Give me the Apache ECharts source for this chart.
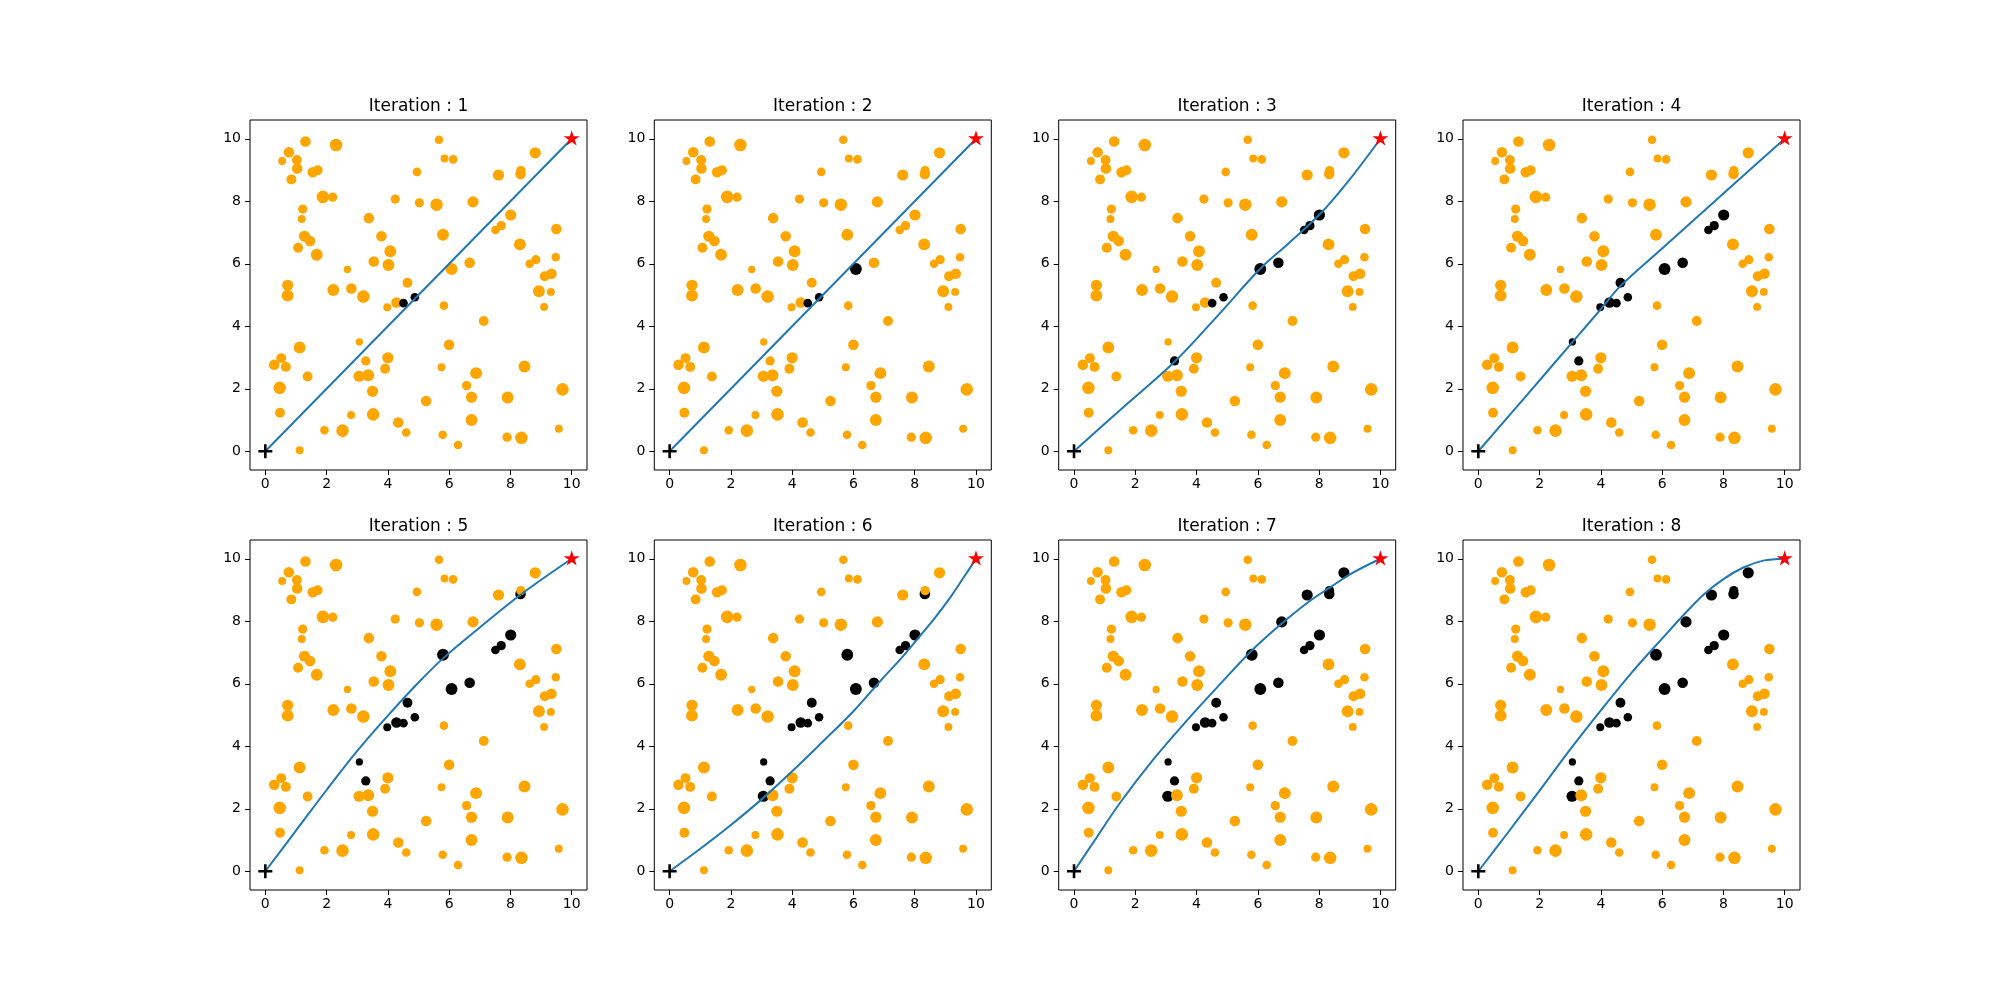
<!DOCTYPE html>
<html><head><meta charset="utf-8">
<script src="https://cdn.jsdelivr.net/npm/echarts@6/dist/echarts.min.js"></script>
<style>html,body{margin:0;padding:0;background:#fff}#c{width:2000px;height:1000px}</style>
</head><body><div id="c"></div>
<script>
// ---------- data ----------
const iterations = [1, 2, 3, 4, 5, 6, 7, 8];
const tickValues = [0, 2, 4, 6, 8, 10];
const titlePrefix = 'Iteration : ';
const start = [0, 0];
const goal = [10, 10];
// obstacles: [x, y, radius (data units), iteration in which it first turns black (0 = never)]
const obstacles = [
  [1.31, 9.91, 0.16, 0], [2.31, 9.80, 0.19, 0], [0.77, 9.57, 0.16, 0], [0.55, 9.29, 0.12, 0],
  [1.03, 9.32, 0.15, 0], [1.04, 9.05, 0.16, 0], [0.85, 8.70, 0.15, 0], [1.55, 8.93, 0.16, 0],
  [1.71, 8.99, 0.15, 0], [1.88, 8.14, 0.19, 0], [2.20, 8.13, 0.14, 0], [5.67, 9.97, 0.13, 0],
  [5.85, 9.37, 0.12, 0], [6.13, 9.34, 0.13, 0], [4.95, 8.94, 0.13, 0], [8.81, 9.55, 0.17, 7],
  [7.61, 8.84, 0.17, 7], [8.33, 8.87, 0.16, 5], [8.34, 8.98, 0.14, 7], [4.24, 8.07, 0.14, 0],
  [5.03, 7.95, 0.14, 0], [5.59, 7.89, 0.19, 0], [6.78, 7.98, 0.17, 7], [1.22, 7.75, 0.14, 0],
  [1.19, 7.43, 0.12, 0], [3.38, 7.46, 0.16, 0], [8.01, 7.56, 0.17, 3], [7.70, 7.22, 0.14, 3],
  [7.51, 7.08, 0.13, 3], [9.50, 7.11, 0.16, 0], [5.80, 6.93, 0.18, 5], [1.28, 6.88, 0.17, 0],
  [1.46, 6.73, 0.16, 0], [3.79, 6.88, 0.16, 0], [1.07, 6.51, 0.15, 0], [1.68, 6.29, 0.18, 0],
  [4.08, 6.40, 0.18, 0], [8.31, 6.62, 0.18, 0], [2.68, 5.82, 0.11, 0], [3.54, 6.07, 0.16, 0],
  [4.02, 5.96, 0.18, 0], [6.08, 5.83, 0.18, 2], [6.67, 6.03, 0.16, 3], [8.83, 6.13, 0.14, 0],
  [8.63, 6.00, 0.13, 0], [9.48, 6.21, 0.13, 0], [4.64, 5.39, 0.15, 4], [9.12, 5.60, 0.15, 0],
  [9.34, 5.68, 0.16, 0], [8.93, 5.12, 0.18, 0], [9.32, 5.10, 0.12, 0], [0.73, 5.31, 0.17, 0],
  [0.73, 4.98, 0.18, 0], [2.22, 5.16, 0.18, 0], [2.81, 5.21, 0.16, 0], [3.20, 4.95, 0.19, 0],
  [4.88, 4.93, 0.13, 1], [4.28, 4.76, 0.16, 4], [4.51, 4.74, 0.13, 1], [3.98, 4.61, 0.12, 4],
  [5.83, 4.66, 0.13, 0], [9.10, 4.62, 0.12, 0], [7.13, 4.17, 0.15, 0], [3.07, 3.50, 0.11, 4],
  [1.12, 3.32, 0.18, 0], [6.00, 3.41, 0.16, 0], [0.29, 2.77, 0.16, 0], [0.52, 2.98, 0.15, 0],
  [0.67, 2.70, 0.15, 0], [1.38, 2.39, 0.15, 0], [3.28, 2.89, 0.14, 3], [4.00, 2.99, 0.17, 0],
  [3.91, 2.64, 0.15, 0], [3.06, 2.40, 0.17, 6], [3.36, 2.43, 0.18, 0], [5.75, 2.69, 0.12, 0],
  [6.88, 2.50, 0.18, 0], [8.46, 2.71, 0.18, 0], [0.47, 2.03, 0.19, 0], [3.50, 1.92, 0.17, 0],
  [6.57, 2.10, 0.14, 0], [6.73, 1.73, 0.17, 0], [7.91, 1.72, 0.18, 0], [9.70, 1.98, 0.19, 0],
  [5.25, 1.61, 0.16, 0], [0.48, 1.23, 0.15, 0], [2.80, 1.16, 0.12, 0], [3.52, 1.18, 0.19, 0],
  [6.73, 1.00, 0.18, 0], [4.34, 0.92, 0.16, 0], [1.93, 0.67, 0.13, 0], [2.52, 0.66, 0.19, 0],
  [4.60, 0.60, 0.13, 0], [5.79, 0.53, 0.13, 0], [9.58, 0.72, 0.12, 0], [7.89, 0.45, 0.14, 0],
  [8.36, 0.43, 0.19, 0], [6.29, 0.20, 0.13, 0], [1.12, 0.03, 0.12, 0]
];
const path1 = [[0, 0], [10, 10]];
const path2 = [[0, 0], [10, 10]];
const path3 = [[0, 0], [1.6, 1.4], [3.29, 2.87], [4.7, 4.35], [6.07, 5.83], [7, 6.65], [8.03, 7.59], [9, 8.7], [10, 10]];
const path4 = [[0, 0], [1.5, 1.7], [3.08, 3.5], [4.0, 4.55], [4.65, 5.3], [6, 6.49], [8, 8.25], [10, 10]];
const path5 = [[0, 0], [1, 1.3], [2, 2.6], [3, 3.85], [4, 4.98], [5, 6.04], [5.81, 6.82], [7, 7.8], [8.33, 8.85], [10, 10]];
const path6 = [[0, 0], [1, 0.72], [2, 1.48], [3, 2.3], [4, 3.2], [5, 4.15], [6, 5.12], [6.97, 6.19], [7.52, 6.77], [8.12, 7.47], [8.66, 8.11], [9.15, 8.75], [9.59, 9.39], [10, 10]];
const path7 = [[0, 0], [0.65, 0.95], [1.51, 2.2], [2.59, 3.58], [3.68, 4.82], [4.76, 5.98], [5.82, 7.08], [6.81, 7.95], [7.63, 8.6], [8.32, 9.06], [9.08, 9.54], [10, 10]];
const path8 = [[0, 0], [1, 1.28], [2, 2.58], [3, 3.9], [4, 5.15], [5, 6.35], [6.05, 7.5], [6.7, 8.2], [7.35, 8.85], [8, 9.35], [8.65, 9.72], [9.3, 9.94], [10, 10]];
const paths = [path1, path2, path3, path4, path5, path6, path7, path8];

// ---------- layout / style ----------
const colLeft = [250, 654.3, 1058.7, 1463];
const rowTop = [120, 540];
const W = 337, H = 350;
const UNIT_PX = 33;
const FONT = 'DejaVu Sans';
const PLUS = 'path://M5.7,0H8.3V5.7H14V8.3H8.3V14H5.7V8.3H0V5.7H5.7Z';
const STAR = 'path://M50,0L61.23,34.55L97.55,34.55L68.16,55.9L79.39,90.45L50,69.1L20.61,90.45L31.84,55.9L2.45,34.55L38.77,34.55Z';

const grids = [], xAxes = [], yAxes = [], series = [], graphics = [];
iterations.forEach((it, i) => {
  const left = colLeft[i % 4], top = rowTop[Math.floor(i / 4)];
  grids.push({ left, top, width: W, height: H, show: true, borderColor: '#000', borderWidth: 1,
    backgroundColor: 'transparent', containLabel: false, outerBoundsMode: 'none' });
  const axisCommon = {
    type: 'value', gridIndex: i, splitLine: { show: false },
    axisLine: { show: false, onZero: false },
    axisTick: { show: true, inside: false, length: 5, lineStyle: { color: '#000', width: 1 }, customValues: tickValues },
    axisLabel: { show: true, color: '#000', fontSize: 14, fontFamily: FONT, customValues: tickValues }
  };
  xAxes.push(Object.assign({}, axisCommon, { position: 'bottom', min: -0.5, max: 10.5,
    axisLabel: Object.assign({}, axisCommon.axisLabel, { margin: 7 }) }));
  yAxes.push(Object.assign({}, axisCommon, { position: 'left', min: -0.6, max: 10.6,
    axisLabel: Object.assign({}, axisCommon.axisLabel, { margin: 9 }) }));
  series.push({
    type: 'scatter', xAxisIndex: i, yAxisIndex: i, silent: true, z: 2,
    data: obstacles.map(o => ({ value: o, itemStyle: { opacity: 1, color: (o[3] > 0 && o[3] <= it) ? '#000000' : '#ffa500' } })),
    symbol: 'circle', symbolSize: v => v[2] * 2 * UNIT_PX, itemStyle: { opacity: 1 }
  });
  series.push({
    type: 'line', xAxisIndex: i, yAxisIndex: i, silent: true, z: 3,
    data: paths[i], showSymbol: false, symbol: 'none',
    smooth: paths[i].length > 2 ? 0.35 : false,
    lineStyle: { color: '#1f77b4', width: 2, opacity: 1 }
  });
  series.push({
    type: 'scatter', xAxisIndex: i, yAxisIndex: i, silent: true, z: 4,
    data: [start], symbol: PLUS, symbolSize: 14, itemStyle: { color: '#000', opacity: 1 }
  });
  series.push({
    type: 'scatter', xAxisIndex: i, yAxisIndex: i, silent: true, z: 5,
    data: [goal], symbol: STAR, symbolSize: [16, 15.2], symbolOffset: [0, -0.8], itemStyle: { color: '#ff0000', opacity: 1 }
  });
  graphics.push({
    type: 'text', x: left + W / 2, y: top - 13.5,
    style: { text: titlePrefix + it, fontSize: 17, fontFamily: FONT, fill: '#000', align: 'center', verticalAlign: 'middle' }
  });
});

const chart = echarts.init(document.getElementById('c'), null, { renderer: 'canvas', width: 2000, height: 1000 });
chart.setOption({
  animation: false, backgroundColor: '#fff',
  grid: grids, xAxis: xAxes, yAxis: yAxes, series, graphic: graphics
});
</script></body></html>
